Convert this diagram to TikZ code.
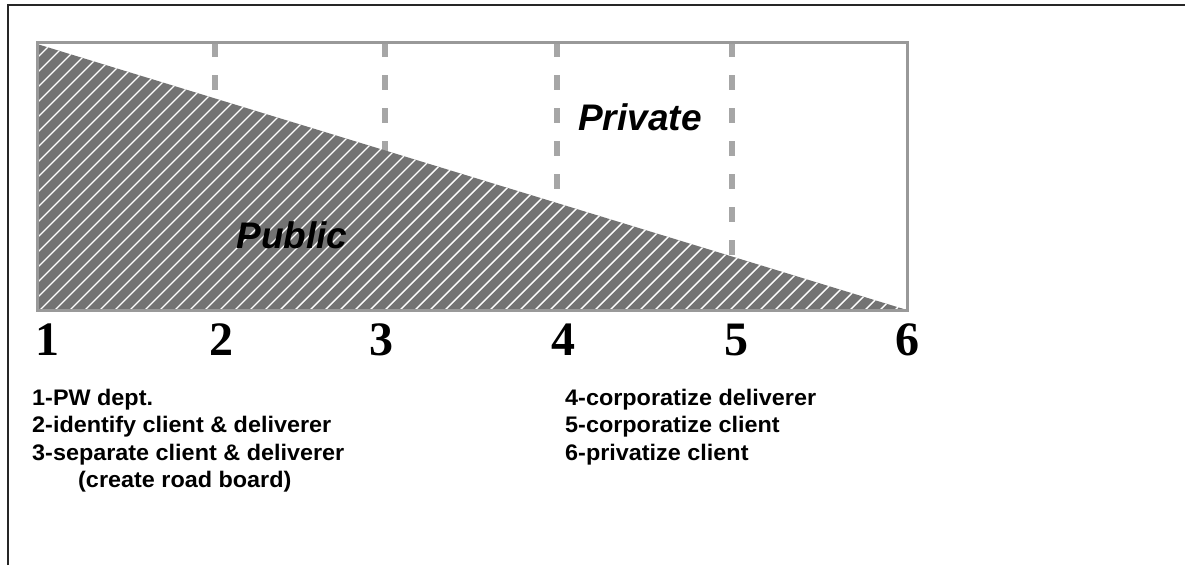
\documentclass[tikz,border=0pt]{standalone}
\usepackage{fontspec}
\setmainfont{Liberation Sans}
\newfontfamily\numfont{Liberation Serif}
\newfontfamily\listfont{Liberation Sans}[FakeStretch=1.04]
\begin{document}
\begin{tikzpicture}[x=1pt,y=-1pt,
  frameline/.style={line width=1.6pt,black!85},
  boxline/.style={line width=3pt,black!40},
  dashline/.style={line width=6pt,black!35,dash pattern=on 15pt off 18pt},
  hatchfill/.style={fill=black!55,draw=none},
  hatchline/.style={white,line width=1.4pt},
  numlbl/.style={font=\numfont\bfseries\fontsize{48}{50}\selectfont,anchor=base,inner sep=0pt},
  itemlbl/.style={font=\listfont\bfseries\fontsize{22.5}{24}\selectfont,anchor=base west,inner sep=0pt},
  zonelbl/.style={font=\bfseries\itshape\fontsize{37}{40}\selectfont,inner sep=0pt,anchor=base}]
\useasboundingbox (0,0) rectangle (1185,565);
% outer frame
\draw[frameline] (8,565) -- (8,5) -- (1185,5);
% dashed dividers
\foreach \xx in {215,385,557,732}{
  \draw[dashline] (\xx,42) -- (\xx,310);
}
% public triangle with hatching
\fill[hatchfill] (37,44) -- (907,310) -- (37,310) -- cycle;
\begin{scope}
  \clip (37,44) -- (907,310) -- (37,310) -- cycle;
  \foreach \k in {0,...,85}{
    \draw[hatchline] ({\k*15-300},320) -- ({\k*15},20);
  }
\end{scope}
% chart box
\draw[boxline] (37,42) rectangle (907,310);
% zone labels
\node[zonelbl] (private) at (640,130) {Private};
\node[zonelbl] (public) at (292,248) {Public};
% scale numbers
\node[numlbl] (n1) at (47,355) {1};
\node[numlbl] (n2) at (221,355) {2};
\node[numlbl] (n3) at (381,355) {3};
\node[numlbl] (n4) at (563,355) {4};
\node[numlbl] (n5) at (736,355) {5};
\node[numlbl] (n6) at (907,355) {6};
% legend
\node[itemlbl] (l1) at (32,405) {1-PW dept.};
\node[itemlbl] (l2) at (32,432.5) {2-identify client \& deliverer};
\node[itemlbl] (l3) at (32,460) {3-separate client \& deliverer};
\node[itemlbl] (l3b) at (78,487.5) {(create road board)};
\node[itemlbl] (l4) at (565,405) {4-corporatize deliverer};
\node[itemlbl] (l5) at (565,432.5) {5-corporatize client};
\node[itemlbl] (l6) at (565,460) {6-privatize client};
\end{tikzpicture}
\end{document}
